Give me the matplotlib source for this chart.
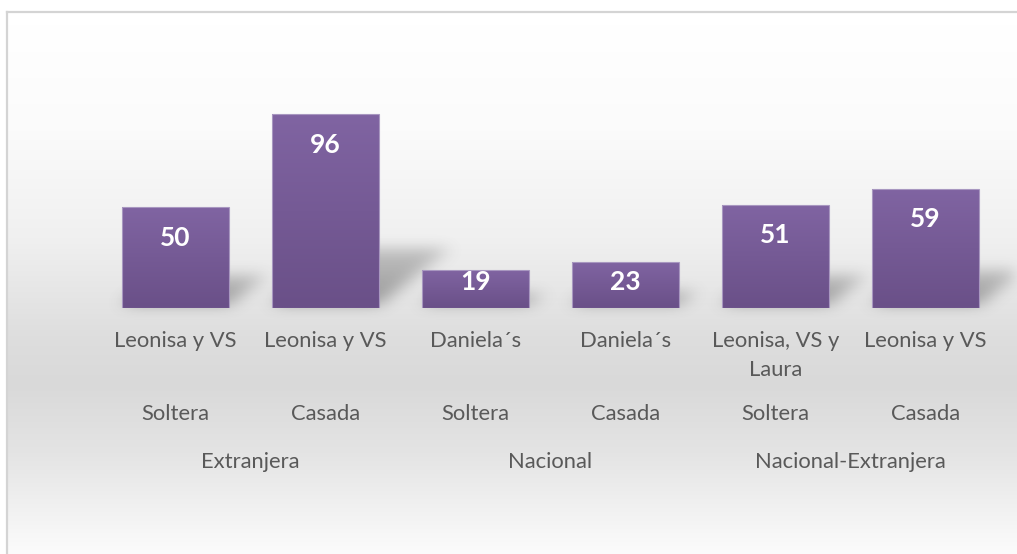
import numpy as np
import matplotlib
matplotlib.use("Agg")
import matplotlib.pyplot as plt
from matplotlib.lines import Line2D

# ---- data ----
brands = ["Leonisa y VS", "Leonisa y VS", "Daniela\u00b4s", "Daniela\u00b4s",
          "Leonisa, VS y\nLaura", "Leonisa y VS"]
status = ["Soltera", "Casada", "Soltera", "Casada", "Soltera", "Casada"]
groups = ["Extranjera", "Nacional", "Nacional-Extranjera"]
values = [50, 96, 19, 23, 51, 59]

W, H = 1017, 554
DPI = 100
FONT = ["Lato", "DejaVu Sans"]
TXT = "#595959"
FS = 15.8

fig = plt.figure(figsize=(W / DPI, H / DPI), dpi=DPI)
fig.patch.set_facecolor("white")

# ---- background gradient ----
bg = fig.add_axes([0, 0, 1, 1], zorder=0)
bg.set_xlim(0, W)
bg.set_ylim(H, 0)
bg.axis("off")
rows = np.arange(H)
stops_y = [12, 120, 230, 330, 380, 450, 554]
stops_v = [255, 251, 240, 222, 217, 228, 252]
col = np.interp(rows, stops_y, stops_v) / 255.0
grad = np.repeat(col[:, None], 2, axis=1)
img = np.dstack([grad, grad, grad])
bg.imshow(img, extent=(8, W, H, 13), aspect="auto", interpolation="bilinear")
bg.add_line(Line2D([7, 7], [12, H], color="#d4d4d4", lw=1.6))
bg.add_line(Line2D([7, W], [12, 12], color="#d4d4d4", lw=1.6))

# ---- main axes ----
left_px, right_px = 100.5, 1000.5
base_px, unit_px = 308, 2.02
ymax = 100
top_px = base_px - ymax * unit_px
ax = fig.add_axes([left_px / W, (H - base_px) / H, (right_px - left_px) / W,
                   (base_px - top_px) / H], zorder=2)
ax.set_facecolor("none")
x = np.arange(len(values))
bars = ax.bar(x, values, width=0.713, color="none", edgecolor="#a897c0",
              linewidth=0.8, zorder=3)
for s in ax.spines.values():
    s.set_visible(False)
ax.set_xticks([])
ax.set_yticks([])

# gradient fill for bars
top_c = np.array([128, 100, 162]) / 255.0
bot_c = np.array([106, 80, 136]) / 255.0
tt = np.linspace(0, 1, 64)[:, None]
gcol = top_c[None, :] * (1 - tt) + bot_c[None, :] * tt
gimg = gcol[:, None, :].repeat(2, axis=1)
for b in bars:
    x0, w, h = b.get_x(), b.get_width(), b.get_height()
    im = ax.imshow(gimg, extent=(x0, x0 + w, 0, h), aspect="auto",
                   interpolation="bilinear", zorder=2.5)
    im.set_clip_path(b)
ax.set_xlim(-0.5, len(values) - 0.5)
ax.set_ylim(0, ymax)

# ---- shadows (computed from bar geometry) ----
sh = np.zeros((H, W))
for b in bars:
    (dx0, dy0) = ax.transData.transform((b.get_x(), 0))
    (dx1, dy1) = ax.transData.transform((b.get_x() + b.get_width(), b.get_height()))
    hpx = dy1 - dy0
    rb = H - dy0 - 3
    depth = 0.29 * hpx
    skew = 0.36 * hpx
    for r in range(int(rb - depth), int(rb)):
        t = (rb - r) / depth
        sft = skew * t
        a = 0.5 * (1 - 0.45 * t)
        c0, c1 = int(dx0 + sft), int(dx1 + sft)
        sl = slice(max(c0, 0), min(c1, W))
        sh[r, sl] = np.maximum(sh[r, sl], a)

def box(a, r, axis):
    k = np.ones(2 * r + 1) / (2 * r + 1)
    return np.apply_along_axis(lambda m: np.convolve(m, k, mode="same"), axis, a)

for _ in range(3):
    sh = box(sh, 6, 0)
    sh = box(sh, 8, 1)
shade = np.zeros((H, W, 4))
shade[..., :3] = 0.3
shade[..., 3] = np.clip(sh, 0, 1)
sax = fig.add_axes([0, 0, 1, 1], zorder=1)
sax.axis("off")
sax.set_facecolor("none")
sax.imshow(shade, extent=(0, W, H, 0), aspect="auto", interpolation="bilinear")
sax.set_xlim(0, W)
sax.set_ylim(H, 0)

# ---- value labels ----
for b, v in zip(bars, values):
    hpx = v * unit_px
    off = min(30.5, hpx - 25.5)
    ax.annotate(str(v), (b.get_x() + b.get_width() / 2, v),
                xytext=(0, -off), textcoords="offset pixels",
                ha="center", va="center", color="white", fontsize=19,
                fontweight="bold", family=FONT, zorder=5)

# ---- category labels ----
for i, lab in enumerate(brands):
    nl = lab.count("\n")
    ax.annotate(lab, (i, 0), xycoords=("data", "axes fraction"),
                xytext=(0, -39 - 29 * nl), textcoords="offset pixels", ha="center",
                va="baseline", color=TXT, fontsize=FS, family=FONT,
                linespacing=1.55, annotation_clip=False)
for i, lab in enumerate(status):
    ax.annotate(lab, (i, 0), xycoords=("data", "axes fraction"),
                xytext=(0, -106), textcoords="offset pixels", ha="center",
                va="center", color=TXT, fontsize=FS, family=FONT,
                annotation_clip=False)
for g, lab in enumerate(groups):
    ax.annotate(lab, (2 * g + 0.5, 0), xycoords=("data", "axes fraction"),
                xytext=(0, -154), textcoords="offset pixels", ha="center",
                va="center", color=TXT, fontsize=FS, family=FONT,
                annotation_clip=False)

fig.savefig("out.png", dpi=DPI)
